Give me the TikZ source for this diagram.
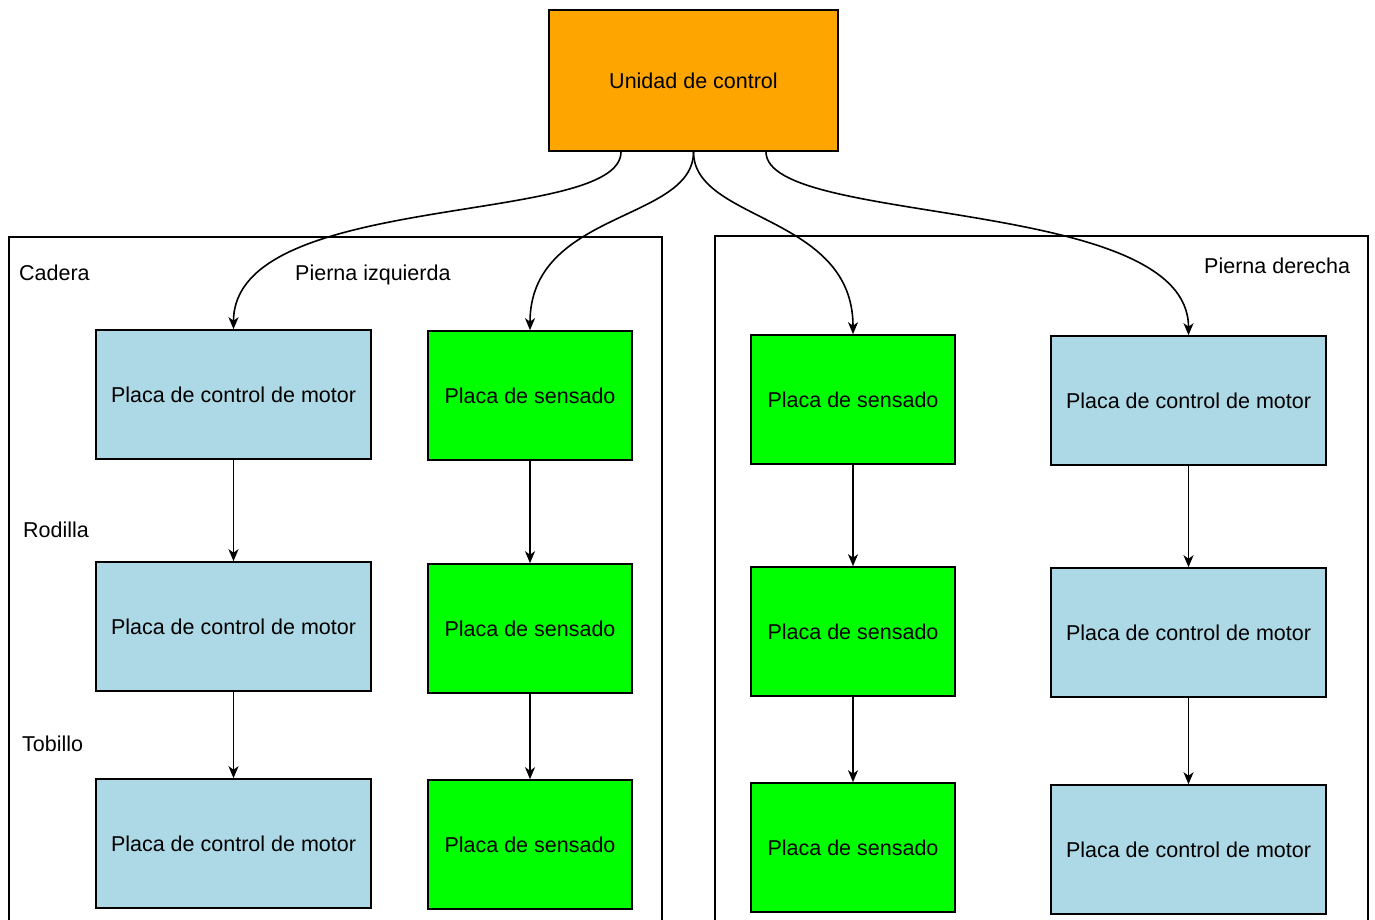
\documentclass[tikz,border=0pt]{standalone}
\usepackage{fontspec}
\setmainfont{Liberation Sans}
\usetikzlibrary{arrows.meta,calc}
\definecolor{ucorange}{HTML}{FFA500}
\definecolor{motorblue}{HTML}{ADD8E6}
\definecolor{sensgreen}{HTML}{00FF00}
\begin{document}
\begin{tikzpicture}[x=1pt,y=-1pt,
  font=\fontsize{21.5}{26}\selectfont,
  boxbase/.style={draw=black, line width=1.6pt, inner sep=0pt, minimum height=129pt},
  ucbox/.style={boxbase, fill=ucorange, minimum width=289pt, minimum height=141pt},
  motorbox/.style={boxbase, fill=motorblue, minimum width=275pt},
  sensbox/.style={boxbase, fill=sensgreen, minimum width=204pt},
  frame/.style={draw=black, line width=1.5pt},
  lbl/.style={inner sep=0pt, anchor=base west},
  conn/.style={draw=black, line width=1.6pt, -{Stealth[length=12pt,width=10pt,inset=3.5pt]}}]
\useasboundingbox (0,0) rectangle (1375,920);
\fill[white] (0,0) rectangle (1375,920);

% frames (open at the bottom edge)
\draw[frame] (9,921) -- (9,237) -- (662,237) -- (662,921);
\draw[frame] (715,921) -- (715,236) -- (1368,236) -- (1368,921);

% control unit
\node[ucbox] (uc) at (693.5,80.5) {Unidad de control};
\coordinate (ucA) at ([xshift=-72.5pt]uc.south);
\coordinate (ucB) at (uc.south);
\coordinate (ucC) at ([xshift=72.5pt]uc.south);

% left leg
\node[motorbox] (lm1) at (233.5,394.5) {Placa de control de motor};
\node[motorbox] (lm2) at (233.5,626.5) {Placa de control de motor};
\node[motorbox] (lm3) at (233.5,843.5) {Placa de control de motor};
\node[sensbox] (ls1) at (530,395.5) {Placa de sensado};
\node[sensbox] (ls2) at (530,628.5) {Placa de sensado};
\node[sensbox] (ls3) at (530,844.5) {Placa de sensado};

% right leg
\node[sensbox] (rs1) at (853,399.5) {Placa de sensado};
\node[sensbox] (rs2) at (853,631.5) {Placa de sensado};
\node[sensbox] (rs3) at (853,847.5) {Placa de sensado};
\node[motorbox] (rm1) at (1188.5,400.5) {Placa de control de motor};
\node[motorbox] (rm2) at (1188.5,632.5) {Placa de control de motor};
\node[motorbox] (rm3) at (1188.5,849.5) {Placa de control de motor};

% labels
\node[lbl] (lcad) at (19,280) {Cadera};
\node[lbl] (lrod) at (23,537) {Rodilla};
\node[lbl] (ltob) at (22,751) {Tobillo};
\node[lbl] (lpi) at (295,280) {Pierna izquierda};
\node[lbl] (lpd) at (1204,273) {Pierna derecha};

% curved connectors from the control unit
\draw[conn] (ucA) .. controls ($(ucA)+(0,75)$) and ($(lm1.north)+(0,-140)$) .. (lm1.north);
\draw[conn] (ucB) .. controls ($(ucB)+(0,70)$) and ($(ls1.north)+(0,-120)$) .. (ls1.north);
\draw[conn] (ucB) .. controls ($(ucB)+(0,70)$) and ($(rs1.north)+(0,-120)$) .. (rs1.north);
\draw[conn] (ucC) .. controls ($(ucC)+(0,75)$) and ($(rm1.north)+(0,-140)$) .. (rm1.north);

% straight connectors
\draw[conn] (lm1) -- (lm2);
\draw[conn] (lm2) -- (lm3);
\draw[conn] (ls1) -- (ls2);
\draw[conn] (ls2) -- (ls3);
\draw[conn] (rs1) -- (rs2);
\draw[conn] (rs2) -- (rs3);
\draw[conn] (rm1) -- (rm2);
\draw[conn] (rm2) -- (rm3);
\end{tikzpicture}
\end{document}
